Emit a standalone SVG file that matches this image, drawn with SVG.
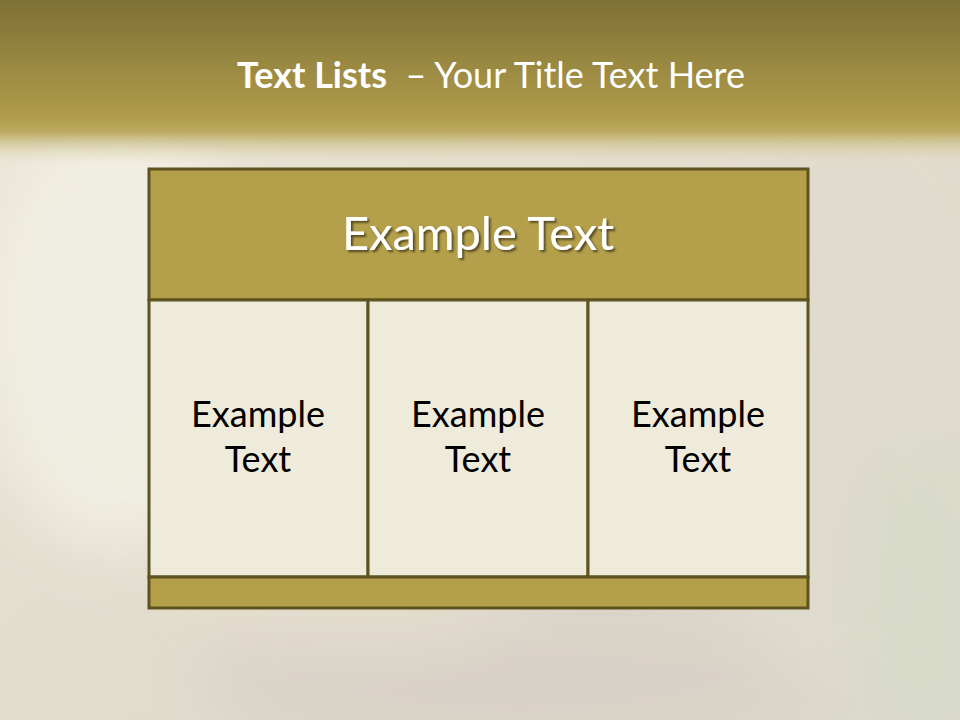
<svg xmlns="http://www.w3.org/2000/svg" width="960" height="720" viewBox="0 0 960 720">
<defs>
<linearGradient id="top" x1="0" y1="0" x2="0" y2="1">
<stop offset="0" stop-color="#7f7036"/>
<stop offset="0.72" stop-color="#b09d4b"/>
<stop offset="0.8" stop-color="#bcab62"/>
<stop offset="1" stop-color="#e6e0c8" stop-opacity="0"/>
</linearGradient>
<linearGradient id="bg" x1="0" y1="0" x2="1" y2="1">
<stop offset="0" stop-color="#ebe7d6"/>
<stop offset="0.5" stop-color="#e2dccd"/>
<stop offset="1" stop-color="#dcdacb"/>
</linearGradient>
<filter id="blur" x="-50%" y="-50%" width="200%" height="200%"><feGaussianBlur stdDeviation="30"/></filter>
<filter id="shadow" x="-10%" y="-20%" width="120%" height="140%"><feDropShadow dx="2" dy="2" stdDeviation="1.2" flood-color="#000" flood-opacity="0.55"/></filter>
<style>
.cell{fill:#efebda;stroke:#5e5220;stroke-width:3}
.band{fill:#b4a04a;stroke:#5e5220;stroke-width:3}
.t{font-family:Lato,"Open Sans",sans-serif;text-anchor:middle}
.ct{font-size:36px;fill:#000}
</style>
</defs>
<rect width="960" height="720" fill="url(#bg)"/>
<g filter="url(#blur)" opacity="0.9">
<ellipse cx="120" cy="330" rx="140" ry="220" fill="#f2efe4"/>
<ellipse cx="520" cy="680" rx="320" ry="90" fill="#d9d2c8"/>
<ellipse cx="820" cy="420" rx="130" ry="260" fill="#e0dccd"/>
<ellipse cx="920" cy="600" rx="60" ry="150" fill="#d7dac8"/>
<ellipse cx="350" cy="560" rx="200" ry="80" fill="#e6dfcf"/>
</g>
<rect width="960" height="165" fill="url(#top)"/>
<g id="title">
<text x="491" y="88" class="t" font-size="36" fill="#ffffff"><tspan font-weight="bold">Text Lists</tspan><tspan xml:space="preserve">  – Your Title Text Here</tspan></text>
</g>
<g id="header">
<rect x="149" y="169" width="659" height="131" class="band"/>
<text x="478" y="250" class="t" font-size="47" fill="#ffffff" filter="url(#shadow)">Example Text</text>
</g>
<g id="cell1">
<rect x="149" y="300" width="219" height="277" class="cell"/>
<text class="t ct" x="258"><tspan x="258" y="427">Example</tspan><tspan x="258" y="472">Text</tspan></text>
</g>
<g id="cell2">
<rect x="368" y="300" width="220" height="277" class="cell"/>
<text class="t ct" x="478"><tspan x="478" y="427">Example</tspan><tspan x="478" y="472">Text</tspan></text>
</g>
<g id="cell3">
<rect x="588" y="300" width="220" height="277" class="cell"/>
<text class="t ct" x="698"><tspan x="698" y="427">Example</tspan><tspan x="698" y="472">Text</tspan></text>
</g>
<g id="footer">
<rect x="149" y="577" width="659" height="31" class="band"/>
</g>
<g id="connectors"/>
</svg>
